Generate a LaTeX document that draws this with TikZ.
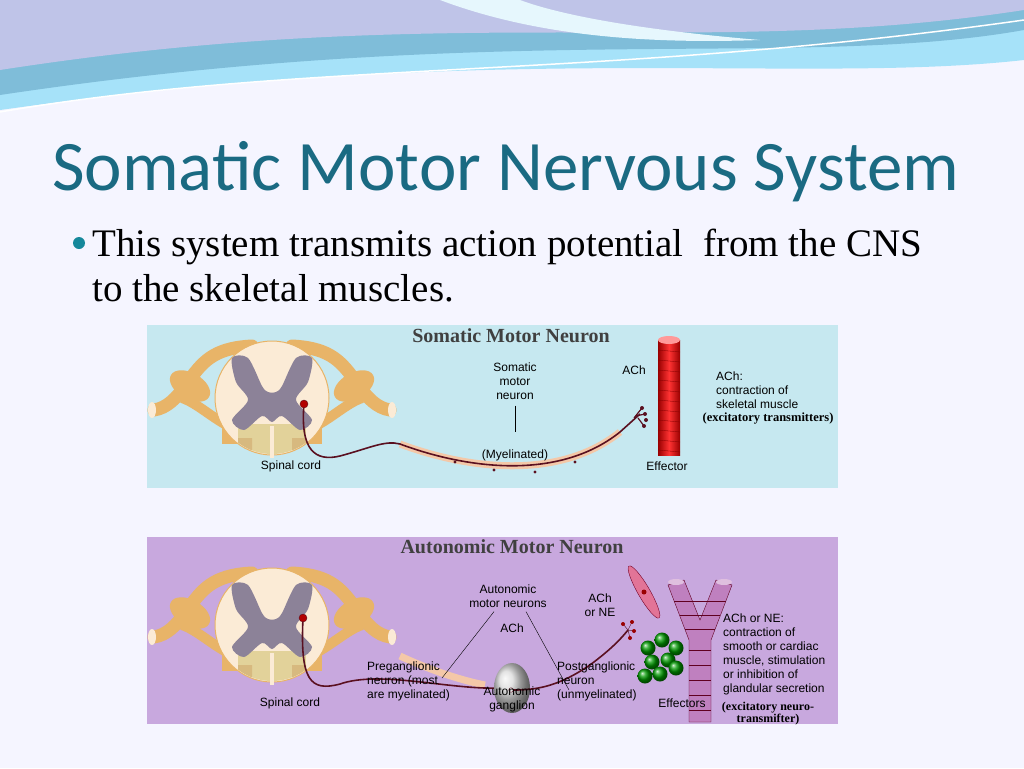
\documentclass[tikz,border=0pt]{standalone}
\usepackage{fontspec}
\setmainfont{Liberation Serif}
\newfontfamily\carl{Carlito}
\newfontfamily\lsans{Liberation Sans}
\usetikzlibrary{calc}
\definecolor{teal}{HTML}{1A6A82}
\definecolor{cyanbg}{HTML}{C6E8F0}
\definecolor{lavbg}{HTML}{C8A8DE}
\definecolor{nerve}{HTML}{E8B468}
\definecolor{cream}{HTML}{FBEBD6}
\definecolor{graym}{HTML}{8C8298}
\definecolor{axon}{HTML}{5A1020}
\definecolor{myelin}{HTML}{F4C8A8}
\definecolor{tan}{HTML}{E2D29A}
\tikzset{lbl/.style={font=\lsans\fontsize{12}{14}\selectfont,align=left,inner sep=0pt},
 lblc/.style={lbl,align=center},
 ptitle/.style={font=\bfseries\fontsize{20}{22}\selectfont,text=black!75,inner sep=0pt},
 excit/.style={font=\bfseries\fontsize{12.5}{12}\selectfont,align=center,inner sep=0pt}}
\newcommand\spinalcord[2]{%
\begin{scope}[shift={(#1,#2)}]
 \foreach \s in {1,-1}{
  \begin{scope}[xscale=\s]
   \draw[nerve,line width=13pt,line cap=round] (-20,-52) .. controls (-60,-50) and (-70,-35) .. (-85,-15) .. controls (-95,0) and (-105,10) .. (-118,12);
   \fill[nerve] (-82,-12) ellipse [x radius=22,y radius=13,rotate=-30];
   \draw[nerve,line width=10pt] (-40,30) .. controls (-60,20) and (-75,5) .. (-90,0);
   \fill[cream] (-120,12) ellipse [x radius=4,y radius=8];
   \fill[nerve] (-50,30) rectangle (-30,46);
  \end{scope}}
 \fill[cream,draw=nerve,line width=1pt] (0,0) circle [radius=57];
 \begin{scope}
  \clip (0,0) circle [radius=56];
  \fill[tan] (-34,26) rectangle (34,60);
  \fill[tan!70!brown] (-34,40) rectangle (-20,60) (20,40) rectangle (34,60);
 \end{scope}
 \fill[cream] (-2,28) rectangle (2,60);
 \fill[graym] plot[smooth cycle] coordinates {(-40,-40) (-24,-40) (-10,-12) (-4,-6) (4,-6) (10,-12) (24,-40) (40,-40) (36,-16) (24,2) (40,22) (28,32) (10,18) (0,24) (-10,18) (-28,32) (-40,22) (-24,2) (-36,-16)};
\end{scope}}
\begin{document}
\begin{tikzpicture}[x=1pt,y=-1pt]
\useasboundingbox (0,0) rectangle (1024,768);
\fill[white!96!blue] (0,0) rectangle (1024,768);
% header waves
\fill[cyan!35!white] (0,0) -- (1024,0) -- (1024,60) .. controls (800,85) and (500,40) .. (0,110) -- cycle;
\fill[cyan!55!teal!60!white] (0,0) -- (1024,0) -- (1024,30) .. controls (800,70) and (500,20) .. (0,95) -- cycle;
\fill[cyan!30!blue!25!white] (0,0) -- (1024,0) -- (1024,10) .. controls (700,60) and (450,0) .. (0,70) -- cycle;
\fill[white!90!cyan] (440,0) .. controls (520,30) and (620,45) .. (760,40) .. controls (640,30) and (560,15) .. (520,0) -- cycle;
\draw[white,line width=1.5pt] (0,112) .. controls (300,60) and (600,80) .. (1024,20);
% title
\node[anchor=base west,text=teal,font=\carl\fontsize{71}{72}\selectfont,inner sep=0pt] (title) at (52,190) {Somatic Motor Nervous System};
\fill[teal!80!cyan] (79,243) circle [radius=6];
\node[anchor=base west,font=\fontsize{39}{40}\selectfont,inner sep=0pt] (bul) at (92,256) {This system transmits action potential\ \ from the CNS};
\node[anchor=base west,font=\fontsize{39}{40}\selectfont,inner sep=0pt] (bul2) at (92,301) {to the skeletal muscles.};
% ===== top panel
\fill[cyanbg] (147,325) rectangle (838,488);
\spinalcord{272}{398}
\node[ptitle] (t1) at (511,336) {Somatic Motor Neuron};
\draw[myelin,line width=7pt] (400,444) .. controls (470,470) and (560,480) .. (620,432);
\draw[axon,line width=1.6pt] (304,404) .. controls (300,450) and (315,462) .. (340,456) .. controls (370,448) and (385,440) .. (400,444) .. controls (470,470) and (560,480) .. (620,432) -- (640,414);
\fill[red!70!black,draw=axon] (304,404) circle [radius=4];
\foreach \p in {(455,462),(494,470),(535,472),(575,462)} \fill[axon] \p circle [radius=1.6];
\draw[axon,line width=1.2pt] (634,418) -- (642,408) (636,416) -- (645,414) (638,418) -- (644,426);
\foreach \p in {(642,408),(645,414),(644,426),(646,420)} \fill[axon] \p circle [radius=2];
\shade[left color=red!60!black,right color=red!60!black,middle color=red!80!white] (658,340) rectangle (680,455);
\fill[red!40] (669,340) ellipse [x radius=11,y radius=4];
\foreach \y in {350,360,...,450} \draw[red!50!black,line width=0.3pt] (658,\y) -- (680,\y+2);
\node[lblc] (sm) at (515,381) {Somatic\\motor\\neuron};
\coordinate (smEnd) at (515,432);
\draw[black] (sm.south) ++(0,6) -- (smEnd);
\node[lbl] (my) at (515,455) {(Myelinated)};
\node[lbl] (ach1) at (634,370) {ACh};
\node[lbl] (eff1) at (667,466) {Effector};
\node[lbl,anchor=north west] (d1) at (716,372) {ACh:\\contraction of\\skeletal muscle};
\node[excit] (ex1) at (768,419) {(excitatory transmitters)};
\node[lbl] (sc1) at (291,466) {Spinal cord};
% ===== bottom panel
\fill[lavbg] (147,537) rectangle (838,724);
\spinalcord{272}{625}
\node[ptitle] (t2) at (512,547) {Autonomic Motor Neuron};
\draw[myelin,line width=7pt] (400,656) .. controls (430,670) and (460,680) .. (485,685);
\draw[axon,line width=1.6pt] (303,618) .. controls (300,680) and (310,692) .. (340,684) .. controls (380,670) and (450,690) .. (500,688);
\fill[red!70!black,draw=axon] (303,618) circle [radius=4];
\shade[ball color=gray!30] (512,688) ellipse [x radius=18,y radius=25];
\node[circle,inner sep=1.6pt,draw=axon,fill=gray!20] (gc) at (511,690) {};
\draw[axon,line width=1.6pt] (gc) .. controls (540,690) and (560,685) .. (590,665) .. controls (610,650) and (620,640) .. (628,630);
\foreach \p in {(623,624),(632,622),(634,631),(630,638)} {\draw[axon] (628,630) -- \p; \fill[red!60!black] \p circle [radius=2];}
% effectors
\foreach \p in {(648,648),(662,640),(676,648),(652,662),(668,660),(660,674),(676,668),(645,676)} \shade[ball color=green!60!black] \p circle [radius=7.5];
\fill[magenta!40!purple!60!white,draw=purple!60!black,rotate around={-60:(644,592)}] (644,592) ellipse [x radius=30,y radius=6];
\fill[red!60!black] (644,592) circle [radius=2.5];
\fill[violet!50!white,draw=purple!50!black] (689,722) -- (689,640) -- (668,585) -- (684,580) -- (700,620) -- (716,580) -- (732,585) -- (711,640) -- (711,722) -- cycle;
\foreach \y in {650,665,...,720} \draw[purple!50!black] (689,\y) -- (711,\y);
\foreach \t in {0.2,0.45,0.7} {\draw[purple!50!black] ($(689,640)!\t!(668,585)$) -- ($(711,640)!\t!(732,585)$);}
\fill[violet!25] (676,582) ellipse [x radius=8,y radius=3];
\fill[violet!25] (724,582) ellipse [x radius=8,y radius=3];
\node[lblc] (amn) at (508,596) {Autonomic\\motor neurons};
\coordinate (amnA) at (442,678);
\coordinate (amnB) at (569,690);
\draw (amn.south) ++(-14,4) -- (amnA);
\draw (amn.south) ++(18,4) -- (amnB);
\node[lbl] (ach2) at (512,628) {ACh};
\node[lblc] (ach3) at (600,605) {ACh\\or NE};
\node[lbl,anchor=north west] (pre) at (367,662) {Preganglionic\\neuron (most\\are myelinated)};
\node[lblc,anchor=north] (ag) at (512,687) {Autonomic\\ganglion};
\node[lbl,anchor=north west] (post) at (557,662) {Postganglionic\\neuron\\(unmyelinated)};
\node[lbl] (eff2) at (682,703) {Effectors};
\node[lbl] (sc2) at (290,703) {Spinal cord};
\node[lbl,anchor=north west] (d2) at (723,614) {ACh or NE:\\contraction of\\smooth or cardiac\\muscle, stimulation\\or inhibition of\\glandular secretion};
\node[excit,font=\bfseries\fontsize{12}{10}\selectfont] (ex2) at (768,714) {(excitatory neuro-\\transmifter)};
\end{tikzpicture}
\end{document}
